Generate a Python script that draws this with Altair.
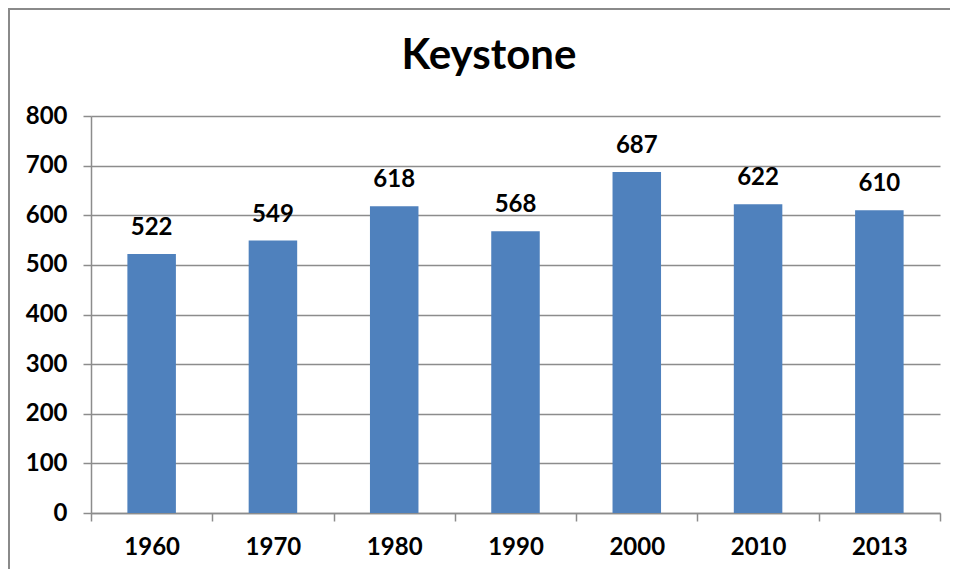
import altair as alt
import pandas as pd

years = ["1960", "1970", "1980", "1990", "2000", "2010", "2013"]
values = [522, 549, 618, 568, 687, 622, 610]
title_text = "Keystone"

df = pd.DataFrame({"year": years, "value": values})

FONT = "Lato"
BAR = "#4F81BD"
GRID = "#8C8C8C"
FS = 24

base = alt.Chart(df)

bars = base.mark_bar(color=BAR, width=alt.RelativeBandSize(0.4)).encode(
    x=alt.X(
        "year:N",
        sort=years,
        scale=alt.Scale(paddingInner=0, paddingOuter=0),
        axis=alt.Axis(
            title=None,
            labelAngle=0,
            labelFont=FONT,
            labelFontWeight="bold",
            labelFontSize=FS,
            labelColor="black",
            labelPadding=14,
            tickBand="extent",
            tickSize=8,
            tickColor=GRID,
            tickWidth=1.5,
            domainColor=GRID,
            domainWidth=1.5,
            grid=False,
        ),
    ),
    y=alt.Y(
        "value:Q",
        scale=alt.Scale(domain=[0, 800], nice=False),
        axis=alt.Axis(
            title=None,
            values=list(range(0, 801, 100)),
            labelFont=FONT,
            labelFontWeight="bold",
            labelFontSize=FS,
            labelColor="black",
            labelPadding=16,
            tickSize=8,
            tickColor=GRID,
            tickWidth=1.5,
            domainColor=GRID,
            domainWidth=1.5,
            grid=True,
            gridColor=GRID,
            gridWidth=1.5,
        ),
    ),
)

labels = base.mark_text(
    font=FONT, fontWeight="bold", fontSize=FS, color="black",
    baseline="alphabetic", dy=-19,
).encode(
    x=alt.X("year:N", sort=years),
    y="value:Q",
    text="value:Q",
)

frame_df = pd.DataFrame({"t": [title_text]})
left_border = alt.Chart(frame_df).mark_rule(color="#8A8A8A", strokeWidth=2).encode(
    x=alt.value(-82), y=alt.value(-108), y2=alt.value(460)
)
top_border = alt.Chart(frame_df).mark_rule(color="#8A8A8A", strokeWidth=2).encode(
    x=alt.value(-82), x2=alt.value(870), y=alt.value(-107)
)
title = alt.Chart(frame_df).mark_text(
    font=FONT, fontWeight="bold", fontSize=42, color="black",
    baseline="alphabetic", align="center",
).encode(
    x=alt.value(398), y=alt.value(-47), text="t:N"
)

chart = alt.layer(bars, labels, left_border, top_border, title).properties(
    width=849,
    height=397,
    autosize=alt.AutoSizeParams(type="none"),
    padding={"left": 83, "top": 108, "right": 10, "bottom": 56},
).configure_view(stroke=None)

chart.save("out.html", embed_options={"renderer": "svg", "actions": False})
